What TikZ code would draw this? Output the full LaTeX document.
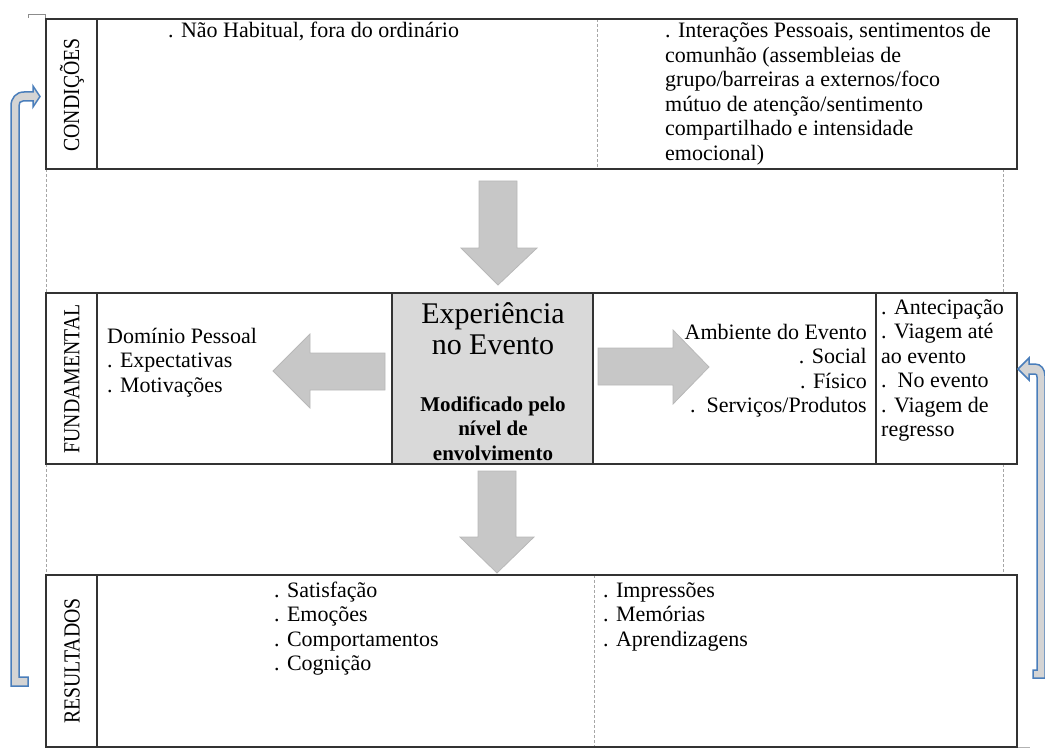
\documentclass[tikz,border=0pt]{standalone}
\usepackage{fontspec}
\setmainfont{Liberation Serif}
\definecolor{wordblue}{HTML}{4A7EBB}
\begin{document}
\begin{tikzpicture}[
        x=1pt, y=-1pt,
        rowbox/.style={draw=black!80, line width=1.3pt, inner sep=0pt, outer sep=0pt, anchor=north west},
        rowline/.style={draw=black!80, line width=1.3pt},
        tag/.style={rotate=90, xscale=0.86, inner sep=0pt, font=\fontsize{23}{24}\selectfont},
        txt/.style={anchor=base west, align=left, inner sep=0pt, font=\fontsize{22}{24.5}\selectfont},
        txtr/.style={txt, anchor=base east, align=right},
        guide/.style={draw=black!35, dash pattern=on 3pt off 2pt, line width=0.8pt},
        greyarrow/.style={fill=black!22, draw=black!28, line width=0.8pt},
        bluearrow/.style={fill=black!17, draw=wordblue, line width=1.5pt, line join=miter},
    ]
    \useasboundingbox (0,0) rectangle (1045,749);

    % guides between the rows
    \draw[guide] (46,169) -- (46,293) (46,464) -- (46,575);
    \draw[guide] (1003,169) -- (1003,293) (1003,464) -- (1003,575);
    \draw[guide] (597,19) -- (597,169);
    \draw[guide] (594,575) -- (594,747);
    \draw[black!45, line width=0.6pt] (28,18) -- (28,14) -- (45,14) -- (45,18);
    \draw[black!30, line width=0.8pt] (1017,747) -- (1030,747);

    % rows
    \node[rowbox, minimum width=971pt, minimum height=150pt] (cond) at (46,19) {};
    \node[rowbox, minimum width=971pt, minimum height=171pt] (fund) at (46,293) {};
    \node[rowbox, minimum width=971pt, minimum height=172pt] (res) at (46,575) {};
    \node[rowbox, fill=black!15, minimum width=201pt, minimum height=171pt] (core) at (392,293) {};
    \draw[rowline] ([xshift=51pt]cond.north west) -- ([xshift=51pt]cond.south west);
    \draw[rowline] ([xshift=51pt]fund.north west) -- ([xshift=51pt]fund.south west);
    \draw[rowline] ([xshift=51pt]res.north west) -- ([xshift=51pt]res.south west);
    \draw[rowline] ([xshift=-141pt]fund.north east) -- ([xshift=-141pt]fund.south east);

    % row labels
    \node[tag] (condtag) at (72,95) {CONDIÇÕES};
    \node[tag] (fundtag) at (72,379) {FUNDAMENTAL};
    \node[tag] (restag) at (72,661) {RESULTADOS};

    % texts (anchored at the baseline of the last line)
    \node[txt] (habit) at (168,38) {. Não Habitual, fora do ordinário};
    \node[txt] (inter) at (665,160.5) {. Interações Pessoais, sentimentos de\\comunhão (assembleias de\\grupo/barreiras a externos/foco\\mútuo de atenção/sentimento\\compartilhado e intensidade\\emocional)};
    \node[txt] (pessoal) at (107,392) {Domínio Pessoal\\. Expectativas\\. Motivações};
    \node[txtr] (ambiente) at (867,412.5) {Ambiente do Evento\\. Social\\. Físico\\.\ \ Serviços/Produtos};
    \node[txt] (fases) at (881,436.5) {. Antecipação\\. Viagem até\\ao evento\\.\ \ No evento\\. Viagem de\\regresso};
    \node[txt] (satisf) at (274,670.5) {. Satisfação\\. Emoções\\. Comportamentos\\. Cognição};
    \node[txt] (impress) at (603,646) {. Impressões\\. Memórias\\. Aprendizagens};
    \node[anchor=base, align=center, inner sep=0pt, font=\fontsize{30}{31}\selectfont] (exper) at (493,354) {Experiência\\no Evento};
    \node[anchor=base, align=center, inner sep=0pt, font=\bfseries\fontsize{21}{24.5}\selectfont] (modif) at (493,460) {Modificado pelo\\nível de\\envolvimento};

    % grey block arrows
    \draw[greyarrow] (479,181) -- (517,181) -- (517,248) -- (537,248) -- (498,285) -- (461,248) -- (479,248) -- cycle;
    \draw[greyarrow] (478,471) -- (516,471) -- (516,537) -- (534,537) -- (497,573) -- (460,537) -- (478,537) -- cycle;
    \draw[greyarrow] (385,353) -- (385,390) -- (310,390) -- (310,408) -- (273,371) -- (310,334) -- (310,353) -- cycle;
    \draw[greyarrow] (598,348) -- (673,348) -- (673,330) -- (709,367) -- (673,404) -- (673,385) -- (598,385) -- cycle;

    % blue return arrows
    \draw[bluearrow] (11,686) -- (11,106) .. controls (11,98) and (16,92) .. (24,92) -- (33,92) -- (33,86)
        -- (40,96.5) -- (33,107) -- (33,101) -- (23,101) .. controls (20,101) and (19,103) .. (19,106)
        -- (19,677) -- (28,677) -- (28,686) -- cycle;
    \draw[bluearrow] (1045,678) -- (1045,376) .. controls (1045,369) and (1041,364) .. (1035,364) -- (1029,364)
        -- (1029,358) -- (1018,369) -- (1029,380) -- (1029,374) -- (1035,374) .. controls (1036.5,374) and (1037,375) .. (1037,377)
        -- (1037,670) -- (1033,670) -- (1033,678) -- cycle;
\end{tikzpicture}
\end{document}
